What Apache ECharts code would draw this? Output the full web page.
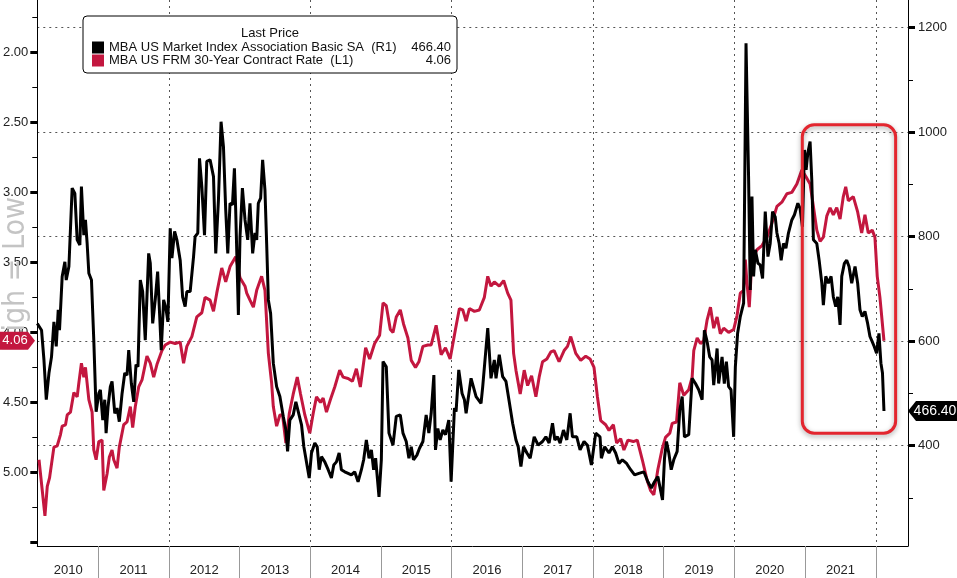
<!DOCTYPE html>
<html>
<head>
<meta charset="utf-8">
<title>MBA Index vs 30Y Rate</title>
<script src="https://cdn.jsdelivr.net/npm/echarts@6/dist/echarts.min.js"></script>
<style>
html, body { margin: 0; padding: 0; background: #fff; }
#chart { width: 957px; height: 578px; }
</style>
</head>
<body>
<div id="chart"></div>
<script>
// 30年期合同利率 (左轴, 反向)
var rateDates = [2010.164,2010.19,2010.248,2010.281,2010.313,2010.375,2010.422,2010.468,2010.492,2010.539,2010.563,2010.609,2010.657,2010.704,2010.728,2010.764,2010.798,2010.821,2010.869,2010.915,2010.939,2010.972,
  2011.01,2011.056,2011.08,2011.127,2011.159,2011.197,2011.221,2011.268,2011.3,2011.362,2011.409,2011.456,2011.489,2011.526,2011.574,2011.621,2011.691,2011.738,2011.786,2011.832,2011.903,2011.949,
  2012.02,2012.09,2012.161,2012.209,2012.255,2012.326,2012.396,2012.467,2012.513,2012.584,2012.632,2012.678,2012.749,2012.805,2012.866,2012.946,
  2013.007,2013.078,2013.102,2013.148,2013.196,2013.243,2013.313,2013.36,2013.408,2013.454,2013.478,2013.525,2013.571,2013.609,2013.656,2013.704,2013.76,2013.817,2013.863,2013.924,2013.994,
  2014.042,2014.089,2014.145,2014.183,2014.23,2014.286,2014.347,2014.417,2014.465,2014.536,2014.597,2014.653,2014.709,2014.784,2014.841,2014.911,2014.982,
  2015.03,2015.076,2015.133,2015.171,2015.217,2015.274,2015.32,2015.382,2015.429,2015.489,2015.537,2015.594,2015.664,2015.711,2015.781,2015.852,2015.913,2015.979,
  2016.054,2016.11,2016.158,2016.205,2016.251,2016.322,2016.392,2016.463,2016.511,2016.557,2016.604,2016.674,2016.736,2016.793,2016.839,2016.877,2016.91,2016.97,
  2017.027,2017.075,2017.131,2017.192,2017.238,2017.286,2017.347,2017.403,2017.45,2017.52,2017.591,2017.639,2017.685,2017.756,2017.826,2017.897,2017.958,
  2018.014,2018.062,2018.109,2018.179,2018.226,2018.288,2018.334,2018.391,2018.437,2018.494,2018.57,2018.626,2018.697,2018.767,2018.814,2018.86,2018.917,2018.979,
  2019.025,2019.086,2019.12,2019.181,2019.227,2019.284,2019.354,2019.402,2019.425,2019.473,2019.52,2019.566,2019.614,2019.661,2019.707,2019.755,2019.801,2019.848,2019.918,2019.989,
  2020.037,2020.083,2020.13,2020.154,2020.178,2020.21,2020.248,2020.319,2020.389,2020.46,2020.53,2020.601,2020.671,2020.742,2020.812,2020.883,2020.953,
  2021.014,2021.07,2021.117,2021.165,2021.212,2021.258,2021.306,2021.353,2021.399,2021.447,2021.494,2021.54,2021.574,2021.611,2021.681,2021.743,2021.8,2021.846,2021.893,2021.949,2021.987,
  2022.02,2022.058,2022.115];
var rateValues = [4.91,4.91,5.31,5.10,5.04,4.82,4.81,4.73,4.67,4.66,4.59,4.57,4.43,4.46,4.36,4.22,4.32,4.25,4.48,4.57,4.84,4.91,
  4.78,4.77,5.13,5.01,4.89,4.84,4.91,4.97,4.82,4.66,4.64,4.53,4.68,4.53,4.39,4.34,4.17,4.22,4.32,4.23,4.13,4.09,
  4.07,4.08,4.07,4.22,4.10,4.03,3.89,3.86,3.75,3.77,3.85,3.72,3.54,3.64,3.53,3.46,
  3.61,3.67,3.72,3.77,3.82,3.70,3.60,3.70,4.15,4.36,4.53,4.67,4.59,4.59,4.79,4.58,4.44,4.32,4.44,4.59,4.72,
  4.58,4.46,4.50,4.47,4.57,4.48,4.39,4.27,4.32,4.33,4.35,4.26,4.39,4.11,4.19,4.08,4.02,
  3.79,3.81,3.98,4.00,3.89,3.84,3.94,4.04,4.20,4.25,4.21,4.10,4.09,4.09,3.95,4.16,4.11,4.19,
  3.98,3.83,3.84,3.92,3.83,3.85,3.84,3.75,3.60,3.67,3.64,3.67,3.63,3.72,3.77,4.15,4.27,4.44,
  4.27,4.38,4.31,4.46,4.32,4.21,4.19,4.14,4.13,4.21,4.13,4.10,4.03,4.15,4.20,4.17,4.19,
  4.25,4.46,4.63,4.66,4.70,4.66,4.79,4.76,4.84,4.77,4.78,4.77,4.91,5.06,5.13,5.16,4.98,4.83,
  4.75,4.72,4.65,4.64,4.36,4.45,4.41,4.32,4.13,4.04,4.08,4.06,3.91,3.82,3.97,3.89,4.01,3.97,4.00,3.98,
  3.88,3.72,3.70,3.48,3.65,3.82,3.48,3.41,3.38,3.32,3.22,3.10,3.07,3.01,3.00,2.94,2.84,
  2.89,2.94,3.10,3.27,3.35,3.32,3.17,3.11,3.16,3.11,3.19,3.03,2.96,3.06,3.03,3.14,3.29,3.16,3.29,3.27,3.32,
  3.60,3.75,4.06];

// 市场指数 (右轴)
var indexDates = [2010.14,2010.2,2010.234,2010.267,2010.305,2010.341,2010.375,2010.408,2010.436,2010.454,2010.492,2010.53,2010.549,2010.587,2010.633,2010.671,2010.704,2010.742,2010.764,2010.798,2010.821,2010.845,2010.869,2010.906,2010.939,2010.972,
  2011.01,2011.032,2011.066,2011.094,2011.113,2011.141,2011.173,2011.197,2011.236,2011.268,2011.3,2011.339,2011.377,2011.409,2011.433,2011.47,2011.504,2011.536,2011.564,2011.597,2011.63,2011.667,2011.715,2011.738,2011.772,2011.808,2011.842,2011.865,2011.893,2011.927,2011.959,2011.987,
  2012.02,2012.044,2012.082,2012.114,2012.161,2012.195,2012.231,2012.255,2012.302,2012.35,2012.372,2012.41,2012.434,2012.467,2012.505,2012.537,2012.584,2012.632,2012.664,2012.702,2012.739,2012.773,2012.805,2012.834,2012.866,2012.9,2012.928,2012.946,2012.984,
  2013.007,2013.041,2013.078,2013.116,2013.148,2013.186,2013.219,2013.243,2013.266,2013.299,2013.327,2013.36,2013.384,2013.408,2013.44,2013.478,2013.525,2013.571,2013.619,2013.656,2013.68,2013.712,2013.76,2013.797,2013.831,2013.877,2013.91,2013.938,2013.986,
  2014.018,2014.065,2014.099,2014.127,2014.159,2014.206,2014.254,2014.3,2014.333,2014.371,2014.409,2014.441,2014.488,2014.536,2014.582,2014.629,2014.677,2014.724,2014.756,2014.794,2014.832,2014.865,2014.897,2014.925,2014.973,
  2015.006,2015.03,2015.076,2015.114,2015.171,2015.217,2015.274,2015.312,2015.358,2015.396,2015.429,2015.461,2015.509,2015.546,2015.594,2015.64,2015.678,2015.711,2015.749,2015.772,2015.805,2015.838,2015.876,2015.913,2015.96,2015.993,
  2016.04,2016.063,2016.101,2016.148,2016.181,2016.205,2016.275,2016.346,2016.416,2016.44,2016.511,2016.557,2016.604,2016.628,2016.674,2016.722,2016.769,2016.815,2016.863,2016.91,2016.942,2016.98,
  2017.018,2017.065,2017.111,2017.168,2017.224,2017.286,2017.333,2017.379,2017.427,2017.46,2017.498,2017.535,2017.582,2017.629,2017.676,2017.709,2017.77,2017.817,2017.873,2017.921,2017.977,
  2018.038,2018.099,2018.118,2018.165,2018.226,2018.274,2018.32,2018.367,2018.415,2018.475,2018.532,2018.588,2018.649,2018.719,2018.776,2018.824,2018.87,2018.917,2018.955,2018.983,
  2019.011,2019.039,2019.072,2019.106,2019.142,2019.19,2019.227,2019.261,2019.293,2019.354,2019.402,2019.449,2019.495,2019.543,2019.575,2019.614,2019.65,2019.684,2019.707,2019.755,2019.777,2019.825,2019.857,2019.886,2019.918,2019.952,2019.989,
  2020.013,2020.045,2020.083,2020.13,2020.164,2020.2,2020.224,2020.248,2020.271,2020.295,2020.333,2020.365,2020.398,2020.436,2020.474,2020.506,2020.539,2020.577,2020.601,2020.633,2020.661,2020.694,2020.728,2020.764,2020.812,2020.849,2020.897,2020.929,2020.962,2020.99,
  2021.014,2021.038,2021.07,2021.094,2021.117,2021.165,2021.198,2021.236,2021.258,2021.292,2021.329,2021.367,2021.399,2021.433,2021.461,2021.494,2021.518,2021.555,2021.588,2021.621,2021.659,2021.706,2021.743,2021.776,2021.808,2021.846,2021.884,2021.917,2021.949,2021.977,
  2022.011,2022.044,2022.072,2022.094,2022.115];
var indexValues = [634,621,564,488,539,570,637,590,660,621,724,752,717,743,893,883,794,784,896,803,832,787,730,717,602,465,
  500,507,449,488,424,475,513,523,462,472,446,500,539,535,583,519,484,555,551,717,695,602,768,749,634,679,733,666,583,679,663,637,
  816,759,810,794,755,685,666,695,695,762,800,807,950,896,803,944,947,915,768,870,1020,972,851,768,864,861,931,851,650,
  800,893,832,794,864,768,807,794,864,874,947,889,787,679,653,558,513,494,456,430,389,449,459,484,465,440,398,395,338,
  386,405,398,354,379,369,354,338,363,369,386,354,350,347,344,350,331,354,373,411,376,392,354,376,302,
  373,561,551,424,401,456,459,424,408,376,398,373,382,395,408,459,424,462,535,392,433,411,430,421,449,331,
  472,465,545,500,488,462,529,494,481,513,625,529,564,529,574,532,523,484,443,411,398,360,
  398,386,376,417,401,408,417,405,443,411,417,405,430,411,462,417,417,392,408,401,363,
  424,417,376,398,386,398,386,366,373,366,354,344,347,350,331,319,331,341,315,296,
  376,408,386,354,373,389,468,494,417,421,529,519,507,488,621,599,570,564,516,586,519,570,519,561,513,507,417,
  551,615,647,673,1170,915,698,877,724,775,749,746,720,848,762,787,848,838,807,787,755,787,778,807,832,842,864,854,819,966,
  928,960,982,909,794,787,755,711,669,724,711,724,685,666,685,631,724,749,755,743,711,743,711,660,647,657,634,609,599,590,
  577,615,558,539,466.4];

// 坐标轴刻度
var yearTicks = [2011,2012,2013,2014,2015,2016,2017,2018,2019,2020,2021,2022];
var yearLabelPos = [2010.577,2011.5,2012.5,2013.5,2014.5,2015.5,2016.5,2017.5,2018.5,2019.5,2020.5,2021.5];
var gridYears = [2012,2014,2016,2018,2020,2022];
var rateTicks = [1.75,2,2.25,2.5,2.75,3,3.25,3.5,3.75,4,4.25,4.5,4.75,5,5.25,5.5];
var rateMajor = [2,2.5,3,3.5,4,4.5,5,5.5];
var rateLabels = [2,2.5,3,3.5,4,4.5,5];
var indexTicks = [300,400,500,600,700,800,900,1000,1100,1200];
var indexLabels = [400,600,800,1000,1200];

var indexName = 'MBA US Market Index Association Basic SA  (R1)';
var rateName = 'MBA US FRM 30-Year Contract Rate  (L1)';
var RED = '#c3173f';
var FONT = '"Liberation Sans", Arial, sans-serif';

var lastIndex = indexValues[indexValues.length - 1];
var lastRate = rateValues[rateValues.length - 1];

function pairs(xs, ys){
	var out = [];
	for (var i = 0; i < xs.length; i++) out.push([xs[i], ys[i]]);
	return out;
}

var X_MIN = 2010.14, X_MAX = 2022.455;
var R_MIN = 1.626, R_MAX = 5.526;
var I_MIN = 208, I_MAX = 1253;

var myChart = echarts.init(document.getElementById('chart'));

var option = {
	animation: false,
	backgroundColor: '#fff',
	textStyle: { fontFamily: FONT },
	grid: { left: 35, right: 49, top: 0, bottom: 32 },
	legend: {
		data: [indexName, rateName],
		orient: 'vertical',
		left: 83, top: 16,
		padding: [25, 6, 6, 9],
		itemGap: 0,
		itemWidth: 12, itemHeight: 12,
		icon: 'rect',
		selectedMode: false,
		backgroundColor: '#fff',
		borderColor: '#000',
		borderWidth: 1,
		borderRadius: 4,
		formatter: function(name){
			var v = name === indexName ? lastIndex.toFixed(2) : lastRate.toFixed(2);
			return '{n|' + name + '}{v|' + v + '}';
		},
		textStyle: {
			color: '#111',
			fontSize: 13,
			fontFamily: FONT,
			rich: {
				n: { width: 284, fontSize: 13, lineHeight: 16, fontFamily: FONT, color: '#111' },
				v: { width: 58, align: 'right', fontSize: 13, lineHeight: 16, fontFamily: FONT, color: '#111' }
			}
		}
	},
	xAxis: [{
		type: 'value', position: 'bottom', min: X_MIN, max: X_MAX,
		axisLine: { lineStyle: { color: '#000', width: 1 } },
		axisTick: { customValues: yearTicks, length: 32, lineStyle: { color: '#999' } },
		axisLabel: {
			customValues: yearLabelPos, margin: 18, color: '#222', fontSize: 13, fontFamily: FONT,
			formatter: function(v){ return String(Math.floor(v)); }
		},
		splitLine: { show: false }
	}, {
		type: 'value', position: 'bottom', min: X_MIN, max: X_MAX,
		axisLine: { show: false },
		axisTick: { show: false, customValues: gridYears },
		axisLabel: { show: false },
		splitLine: { show: true, lineStyle: { type: [2, 4], color: '#555', width: 1 } }
	}],
	yAxis: [{
		type: 'value', position: 'left', inverse: true, min: R_MIN, max: R_MAX,
		axisLine: { show: true, lineStyle: { color: '#000' } },
		axisTick: { show: true, customValues: rateTicks, length: 5, lineStyle: { color: '#000' } },
		axisLabel: {
			customValues: rateLabels, margin: 9, color: '#222', fontSize: 13, fontFamily: FONT,
			formatter: function(v){ return v.toFixed(2); }
		},
		splitLine: { show: false }
	}, {
		type: 'value', position: 'right', min: I_MIN, max: I_MAX,
		axisLine: { show: true, lineStyle: { color: '#000' } },
		axisTick: { show: true, customValues: indexTicks, length: 5, lineStyle: { color: '#000' } },
		axisLabel: {
			customValues: indexLabels, margin: 10, color: '#222', fontSize: 13, fontFamily: FONT,
			formatter: function(v){ return String(v); }
		},
		splitLine: { show: false }
	}, {
		type: 'value', position: 'left', inverse: true, min: R_MIN, max: R_MAX,
		axisLine: { show: false },
		axisTick: { show: true, customValues: rateMajor, length: 7, lineStyle: { color: '#000', width: 3 } },
		axisLabel: { show: false },
		splitLine: { show: false }
	}, {
		type: 'value', position: 'right', min: I_MIN, max: I_MAX,
		axisLine: { show: false },
		axisTick: { show: true, customValues: indexLabels, length: 7, lineStyle: { color: '#000', width: 3 } },
		axisLabel: { show: false },
		splitLine: { show: true, lineStyle: { type: [2, 4], color: '#555', width: 1 } }
	}],
	series: [{
		name: rateName,
		type: 'line',
		xAxisIndex: 0, yAxisIndex: 0,
		data: pairs(rateDates, rateValues),
		symbol: 'none',
		color: RED,
		itemStyle: { color: RED },
		lineStyle: { color: RED, width: 3 },
		z: 3
	}, {
		name: indexName,
		type: 'line',
		xAxisIndex: 0, yAxisIndex: 1,
		data: pairs(indexDates, indexValues),
		symbol: 'none',
		color: '#000',
		itemStyle: { color: '#000' },
		lineStyle: { color: '#000', width: 3 },
		z: 4
	}]
};
myChart.setOption(option);

// 标注: 最新值标签, 红框, 水印
var yR = myChart.convertToPixel({ yAxisIndex: 0 }, lastRate);
var yI = myChart.convertToPixel({ yAxisIndex: 1 }, lastIndex);
var boxA = myChart.convertToPixel({ seriesIndex: 1 }, [2020.96, 1014]);
var boxB = myChart.convertToPixel({ seriesIndex: 1 }, [2022.28, 424]);

myChart.setOption({
	graphic: [{
		type: 'text', z: 1, x: 16, y: 197, rotation: Math.PI / 2,
		style: { text: 'High = Low', fill: '#c4c4c4', font: '30px "DejaVu Sans Condensed", "Liberation Sans", sans-serif', align: 'right', verticalAlign: 'middle' }
	}, {
		type: 'text', z: 20, x: 270, y: 33,
		style: { text: 'Last Price', fill: '#111', font: '13px ' + FONT, align: 'center', verticalAlign: 'middle' }
	}, {
		type: 'rect', z: 20,
		shape: { x: boxA[0], y: boxA[1], width: boxB[0] - boxA[0], height: boxB[1] - boxA[1], r: 12 },
		style: { fill: 'none', stroke: '#e3262f', lineWidth: 3, shadowBlur: 5, shadowColor: 'rgba(0,0,0,0.35)', shadowOffsetY: 2 }
	}, {
		type: 'polygon', z: 20,
		shape: { points: [[0, yR - 9], [28, yR - 9], [35, yR], [28, yR + 9], [0, yR + 9]] },
		style: { fill: RED }
	}, {
		type: 'text', z: 21, x: 15, y: yR,
		style: { text: lastRate.toFixed(2), fill: '#fff', font: '13px ' + FONT, align: 'center', verticalAlign: 'middle' }
	}, {
		type: 'polygon', z: 20,
		shape: { points: [[908, yI], [916, yI - 10], [957, yI - 10], [957, yI + 10], [916, yI + 10]] },
		style: { fill: '#000' }
	}, {
		type: 'text', z: 21, x: 935, y: yI,
		style: { text: lastIndex.toFixed(2), fill: '#fff', font: '14px ' + FONT, align: 'center', verticalAlign: 'middle' }
	}]
});
</script>
</body>
</html>
